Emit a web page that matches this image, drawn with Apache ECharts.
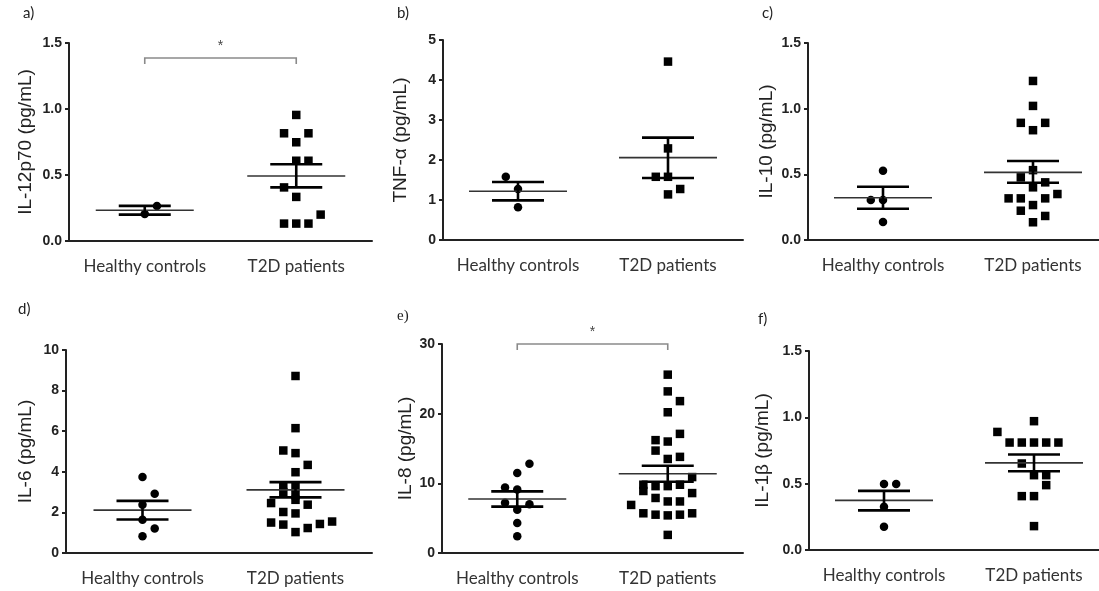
<!DOCTYPE html>
<html>
<head>
<meta charset="utf-8">
<script src="https://cdn.jsdelivr.net/npm/echarts@6/dist/echarts.min.js"></script>
<style>
html,body{margin:0;padding:0;background:#fff;}
#chart{width:1099px;height:591px;}
</style>
</head>
<body>
<div id="chart"></div>
<script>
// ---------- DATA ----------
const categories = ['Healthy controls', 'T2D patients'];
const panelLetters = ['a)', 'b)', 'c)', 'd)', 'e)', 'f)'];
const yTitles = ['IL-12p70 (pg/mL)', 'TNF-α (pg/mL)', 'IL-10 (pg/mL)', 'IL-6 (pg/mL)', 'IL-8 (pg/mL)', 'IL-1β (pg/mL)'];
const yMax = [1.5, 5, 1.5, 10, 30, 1.5];
const yInterval = [0.5, 1, 0.5, 2, 10, 0.5];
const yDecimals = [1, 0, 1, 0, 0, 1];

// a) IL-12p70
const aHealthy = [0.205, 0.265];
const aHealthyCol = [0, 1];
const aT2D = [0.955, 0.816, 0.816, 0.748, 0.608, 0.608, 0.406, 0.334, 0.132, 0.132, 0.132, 0.200];
const aT2DCol = [0, -1, 1, 0, 0, 1, -1, 0, -1, 0, 1, 2];
const aMean = [0.233, 0.492];
const aSemHi = [0.266, 0.581];
const aSemLo = [0.200, 0.406];
const aBracket = 1.386;

// b) TNF-alpha
const bHealthy = [1.58, 1.275, 0.82];
const bHealthyCol = [-1, 0, 0];
const bT2D = [4.46, 2.29, 1.58, 1.58, 1.275, 1.14];
const bT2DCol = [0, 0, -1, 0, 1, 0];
const bMean = [1.22, 2.06];
const bSemHi = [1.45, 2.56];
const bSemLo = [0.99, 1.55];

// c) IL-10
const cHealthy = [0.527, 0.304, 0.304, 0.137];
const cHealthyCol = [0, -1, 0, 0];
const cT2D = [1.211, 1.021, 0.892, 0.892, 0.836, 0.532, 0.477, 0.439, 0.401, 0.350, 0.317, 0.317, 0.317, 0.266, 0.223, 0.183, 0.135];
const cT2DCol = [0, 0, -1, 1, 0, 0, -1, 1, 0, 2, -2, -1, 1, 0, -1, 1, 0];
const cMean = [0.322, 0.515];
const cSemHi = [0.405, 0.601];
const cSemLo = [0.238, 0.436];

// d) IL-6
const dHealthy = [3.74, 2.92, 2.38, 1.64, 1.21, 0.82];
const dHealthyCol = [0, 1, 0, 0, 1, 0];
const dT2D = [8.72, 6.15, 5.05, 4.92, 4.34, 3.98, 3.30, 3.25, 3.00, 2.85, 2.62, 2.46, 2.38, 2.02, 1.95, 1.50, 1.40, 1.03, 1.23, 1.43, 1.55];
const dT2DCol = [0, 0, -1, 0, 1, 0, -1, 0, -1, 0, 0, -2, 1, -1, 0, -2, -1, 0, 1, 2, 3];
const dMean = [2.11, 3.11];
const dSemHi = [2.57, 3.49];
const dSemLo = [1.65, 2.74];

// e) IL-8
const eHealthy = [12.8, 11.5, 9.4, 9.1, 7.2, 7.0, 6.2, 4.3, 2.4];
const eHealthyCol = [1, 0, -1, 0, -1, 1, 0, 0, 0];
const eT2D = [25.6, 23.2, 21.8, 20.2, 17.1, 16.2, 16.0, 14.7, 13.5, 13.8, 10.9, 9.8, 8.9, 9.6, 9.6, 9.8, 8.6, 7.9, 7.4, 7.4, 6.9, 5.7, 5.5, 5.4, 5.5, 5.7, 2.6];
const eT2DCol = [0, 0, 1, 0, 1, -1, 0, -1, 0, 1, 2, -2, -2, -1, 0, 1, 2, -1, 0, 1, -3, -2, -1, 0, 1, 2, 0];
const eMean = [7.75, 11.38];
const eSemHi = [8.85, 12.53];
const eSemLo = [6.65, 10.23];
const eBracket = 30;

// f) IL-1beta
const fHealthy = [0.497, 0.497, 0.326, 0.176];
const fHealthyCol = [0, 1, 0, 0];
const fT2D = [0.971, 0.890, 0.810, 0.810, 0.810, 0.810, 0.810, 0.652, 0.564, 0.564, 0.489, 0.406, 0.406, 0.180];
const fT2DCol = [0, -3, -2, -1, 0, 1, 2, -1, 0, 1, 1, -1, 0, 0];
const fMean = [0.374, 0.657];
const fSemHi = [0.446, 0.720];
const fSemLo = [0.299, 0.594];

// ---------- LAYOUT / STYLE ----------
const panels = [
  {h: aHealthy, hc: aHealthyCol, t: aT2D, tc: aT2DCol, mean: aMean, hi: aSemHi, lo: aSemLo, bracket: aBracket},
  {h: bHealthy, hc: bHealthyCol, t: bT2D, tc: bT2DCol, mean: bMean, hi: bSemHi, lo: bSemLo},
  {h: cHealthy, hc: cHealthyCol, t: cT2D, tc: cT2DCol, mean: cMean, hi: cSemHi, lo: cSemLo},
  {h: dHealthy, hc: dHealthyCol, t: dT2D, tc: dT2DCol, mean: dMean, hi: dSemHi, lo: dSemLo},
  {h: eHealthy, hc: eHealthyCol, t: eT2D, tc: eT2DCol, mean: eMean, hi: eSemHi, lo: eSemLo, bracket: eBracket},
  {h: fHealthy, hc: fHealthyCol, t: fT2D, tc: fT2DCol, mean: fMean, hi: fSemHi, lo: fSemLo}
];
const gridBoxes = [
  {left: 69, top: 43, width: 303, height: 198},
  {left: 443, top: 40, width: 300, height: 200},
  {left: 808, top: 43, width: 300, height: 197},
  {left: 66, top: 350, width: 306, height: 203},
  {left: 442, top: 344, width: 301, height: 209},
  {left: 809, top: 351, width: 300, height: 199}
];
const nameGaps = [34, 33, 32, 31, 27, 37];
const letterPos = [[23, 15], [397, 15], [762, 15], [18, 311], [397, 318], [758, 321]];
const JIT = 12.2;
const INK = '#000000';
const AX = '#222222';

const grid = [], xAxis = [], yAxis = [], series = [], graphic = [];

panels.forEach((p, i) => {
  grid.push(Object.assign({outerBoundsMode: 'none', containLabel: false}, gridBoxes[i]));
  xAxis.push({
    type: 'category', gridIndex: i, data: categories, boundaryGap: true,
    axisLine: {lineStyle: {color: AX, width: 2}},
    axisTick: {alignWithLabel: true, interval: 0, length: 5, lineStyle: {color: AX, width: 2}},
    axisLabel: {interval: 0, hideOverlap: false, color: '#333', fontFamily: 'Lato', fontSize: 17, margin: 17},
    splitLine: {show: false}
  });
  yAxis.push({
    type: 'value', gridIndex: i, min: 0, max: yMax[i], interval: yInterval[i],
    name: yTitles[i], nameLocation: 'middle', nameGap: nameGaps[i], nameRotate: 90,
    nameTextStyle: {fontFamily: 'Liberation Sans', fontSize: 19, color: '#222'},
    axisLine: {show: true, lineStyle: {color: AX, width: 2}},
    axisTick: {show: true, length: 4, lineStyle: {color: AX, width: 2}},
    axisLabel: {color: '#222', fontFamily: 'Liberation Sans', fontWeight: 'bold', fontSize: 14, margin: 7,
      formatter: v => Number(v).toFixed(yDecimals[i])},
    splitLine: {show: false}
  });
  series.push({
    type: 'scatter', xAxisIndex: i, yAxisIndex: i, symbol: 'circle', symbolSize: 8.5,
    itemStyle: {color: INK, opacity: 1},
    data: p.h.map((v, k) => ({value: [0, v], symbolOffset: [p.hc[k] * JIT, 0]})),
    z: 3, silent: true
  });
  series.push({
    type: 'scatter', xAxisIndex: i, yAxisIndex: i, symbol: 'rect', symbolSize: 8.5,
    itemStyle: {color: INK, opacity: 1},
    data: p.t.map((v, k) => ({value: [1, v], symbolOffset: [p.tc[k] * JIT, 0]})),
    z: 3, silent: true
  });
  series.push({
    type: 'custom', xAxisIndex: i, yAxisIndex: i, z: 4, silent: true,
    data: p.mean.map((m, k) => [k, m, p.hi[k], p.lo[k]]),
    renderItem: (params, api) => {
      const c = api.value(0);
      const m = api.coord([c, api.value(1)]);
      const hi = api.coord([c, api.value(2)]);
      const lo = api.coord([c, api.value(3)]);
      const x = m[0];
      return {
        type: 'group',
        children: [
          {type: 'line', shape: {x1: x - 49, y1: m[1], x2: x + 49, y2: m[1]}, style: {stroke: '#333', lineWidth: 1.6}},
          {type: 'line', shape: {x1: x - 26, y1: hi[1], x2: x + 26, y2: hi[1]}, style: {stroke: INK, lineWidth: 2.6}},
          {type: 'line', shape: {x1: x - 26, y1: lo[1], x2: x + 26, y2: lo[1]}, style: {stroke: INK, lineWidth: 2.6}},
          {type: 'line', shape: {x1: x, y1: hi[1], x2: x, y2: lo[1]}, style: {stroke: INK, lineWidth: 2.6}}
        ]
      };
    }
  });
  if (p.bracket !== undefined) {
    series.push({
      type: 'custom', xAxisIndex: i, yAxisIndex: i, z: 5, silent: true, clip: false,
      data: [[0, 1, p.bracket]],
      renderItem: (params, api) => {
        const l = api.coord([api.value(0), api.value(2)]);
        const r = api.coord([api.value(1), api.value(2)]);
        return {
          type: 'group',
          children: [
            {type: 'polyline', shape: {points: [[l[0], l[1] + 6], [l[0], l[1]], [r[0], l[1]], [r[0], l[1] + 6]]},
              style: {stroke: '#8a8a8a', lineWidth: 1.6, fill: null}},
            {type: 'text', style: {text: '*', x: (l[0] + r[0]) / 2, y: l[1] - 5, align: 'center', verticalAlign: 'bottom',
              fontFamily: 'Liberation Sans', fontSize: 14, fill: '#444'}}
          ]
        };
      }
    });
  }
  graphic.push({
    type: 'text', left: letterPos[i][0], top: letterPos[i][1] - 9,
    style: {text: panelLetters[i], fontFamily: i === 4 ? 'Liberation Serif' : 'Lato', fontSize: 15, fill: '#222'}
  });
});

const chart = echarts.init(document.getElementById('chart'), null, {renderer: 'canvas'});
chart.setOption({
  animation: false,
  backgroundColor: '#ffffff',
  grid, xAxis, yAxis, series, graphic
});
</script>
</body>
</html>
